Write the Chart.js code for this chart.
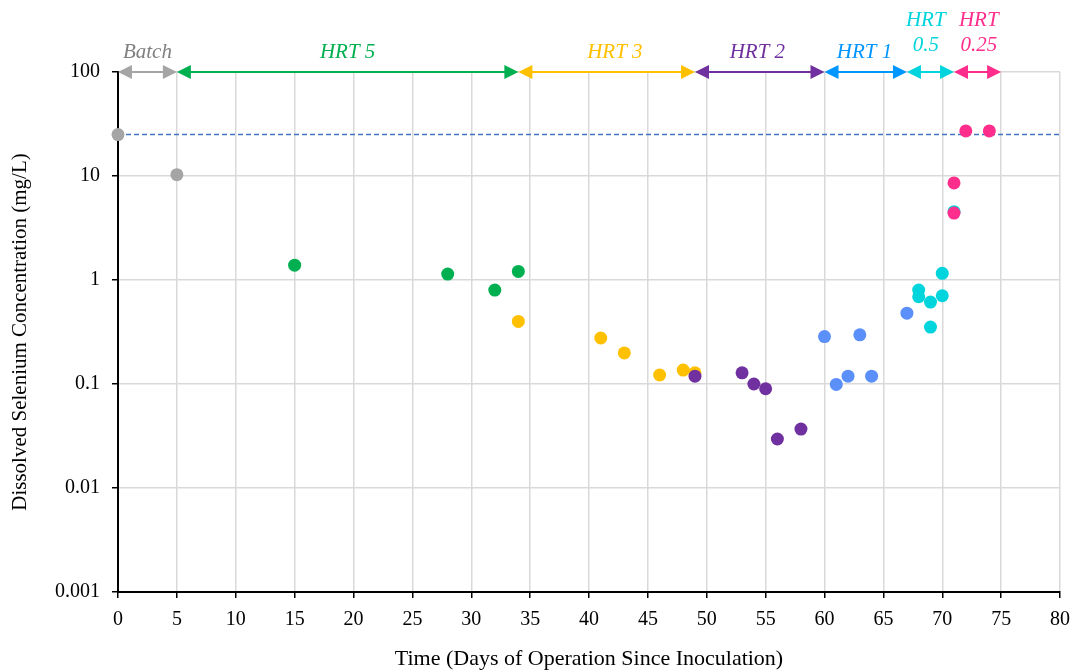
<!DOCTYPE html>
<html>
<head>
<meta charset="utf-8">
<script src="https://cdn.jsdelivr.net/npm/chart.js@4/dist/chart.umd.min.js"></script>
<style>
  html,body{margin:0;padding:0;background:#fff;}
  #wrap{width:1072px;height:672px;}
</style>
</head>
<body>
<div id="wrap"><canvas id="chart"></canvas></div>
<script>
// phases (colour, label, arrow span in days)
const phaseNames = ['Batch', 'HRT 5', 'HRT 3', 'HRT 2', 'HRT 1', 'HRT 0.5', 'HRT 0.25'];
const phaseColors = ['#a5a5a5', '#00b050', '#ffc000', '#7030a0', '#5b8ff9', '#00d4dc', '#ff2e8c'];
const arrowColors = ['#a5a5a5', '#00b050', '#ffc000', '#7030a0', '#0096ff', '#00d4dc', '#ff2e8c'];
const phaseStart = [0, 5, 34, 49, 60, 67, 71];
const phaseEnd = [5, 34, 49, 60, 67, 71, 75];
const labelDay = [2.5, 19.5, 42.2, 54.3, 63.4, 68.6, 73.1];
const labelLines = [['Batch'], ['HRT 5'], ['HRT 3'], ['HRT 2'], ['HRT 1'], ['HRT', '0.5'], ['HRT', '0.25']];

// measurements per phase: days and dissolved Se (mg/L)
const batchDays = [0, 5];
const batchSe = [25, 10.3];
const hrt5Days = [15, 28, 32, 34];
const hrt5Se = [1.39, 1.14, 0.80, 1.21];
const hrt3Days = [34, 41, 43, 46, 48, 49];
const hrt3Se = [0.40, 0.277, 0.199, 0.122, 0.136, 0.128];
const hrt2Days = [49, 53, 54, 55, 56, 58];
const hrt2Se = [0.119, 0.128, 0.100, 0.090, 0.0296, 0.0369];
const hrt1Days = [60, 61, 62, 63, 64, 67];
const hrt1Se = [0.286, 0.099, 0.119, 0.297, 0.119, 0.48];
const hrt05Days = [68, 68, 69, 69, 70, 70, 71];
const hrt05Se = [0.80, 0.69, 0.614, 0.353, 0.706, 1.16, 4.54];
const hrt025Days = [71, 71, 72, 74];
const hrt025Se = [4.4, 8.57, 27.1, 27.1];

const influentSe = 25;
const yTicks = [0.001, 0.01, 0.1, 1, 10, 100];

const allDays = [batchDays, hrt5Days, hrt3Days, hrt2Days, hrt1Days, hrt05Days, hrt025Days];
const allSe = [batchSe, hrt5Se, hrt3Se, hrt2Se, hrt1Se, hrt05Se, hrt025Se];

const datasets = phaseNames.map((name, i) => ({
  label: name,
  data: allDays[i].map((d, j) => ({x: d, y: allSe[i][j]})),
  backgroundColor: phaseColors[i],
  borderColor: phaseColors[i],
  borderWidth: 0,
  pointRadius: 6.5,
  clip: false,
  order: 10 - i
}));

const SERIF = '"Liberation Serif", "Times New Roman", serif';

function arrowHead(ctx, x, y, dir) {
  // dir: -1 points left, 1 points right
  ctx.beginPath();
  ctx.moveTo(x, y);
  ctx.lineTo(x - dir * 14, y - 7);
  ctx.lineTo(x - dir * 14, y + 7);
  ctx.closePath();
  ctx.fill();
}

const overlay = {
  id: 'overlay',
  beforeDatasetsDraw(chart) {
    const {ctx, scales: {y}, chartArea} = chart;
    const yy = y.getPixelForValue(influentSe);
    ctx.save();
    ctx.strokeStyle = '#4472c4';
    ctx.lineWidth = 1.5;
    ctx.setLineDash([5, 3]);
    ctx.beginPath();
    ctx.moveTo(chartArea.left, yy);
    ctx.lineTo(chartArea.right, yy);
    ctx.stroke();
    ctx.restore();
  },
  afterDraw(chart) {
    const {ctx, scales: {x, y}} = chart;
    const ay = y.getPixelForValue(100);
    ctx.save();
    phaseNames.forEach((n, i) => {
      const x0 = x.getPixelForValue(phaseStart[i]);
      const x1 = x.getPixelForValue(phaseEnd[i]);
      ctx.strokeStyle = arrowColors[i];
      ctx.fillStyle = arrowColors[i];
      ctx.lineWidth = 2;
      ctx.beginPath();
      ctx.moveTo(x0 + 10, ay);
      ctx.lineTo(x1 - 10, ay);
      ctx.stroke();
      arrowHead(ctx, x0, ay, -1);
      arrowHead(ctx, x1, ay, 1);
      ctx.font = 'italic 21px ' + SERIF;
      ctx.textAlign = 'center';
      ctx.textBaseline = 'middle';
      const lx = x.getPixelForValue(labelDay[i]);
      const lines = labelLines[i];
      if (lines.length === 1) {
        ctx.fillStyle = i === 0 ? '#808080' : arrowColors[i];
        ctx.fillText(lines[0], lx, ay - 20);
      } else {
        ctx.fillText(lines[0], lx, ay - 52);
        ctx.fillText(lines[1], lx, ay - 27);
      }
    });
    ctx.restore();
  }
};

new Chart(document.getElementById('chart'), {
  type: 'scatter',
  data: {datasets},
  options: {
    responsive: true,
    maintainAspectRatio: false,
    animation: false,
    layout: {padding: {top: 72, right: 0, left: 0, bottom: 0}},
    plugins: {legend: {display: false}, tooltip: {enabled: false}},
    scales: {
      x: {
        type: 'linear',
        min: 0, max: 80,
        ticks: {stepSize: 5, color: '#000', font: {family: SERIF, size: 20}, padding: 10, maxRotation: 0},
        grid: {color: '#d9d9d9', lineWidth: 1.5, tickColor: '#000', tickLength: 6},
        border: {color: '#000', width: 2},
        title: {display: true, text: 'Time (Days of Operation Since Inoculation)', color: '#000',
                font: {family: SERIF, size: 22}, padding: {top: 0, bottom: 0}},
        afterFit(s) { s.height = 80; s.paddingLeft = 0; s.paddingRight = 12; }
      },
      y: {
        type: 'logarithmic',
        min: 0.001, max: 100,
        afterBuildTicks(s) { s.ticks = yTicks.map(v => ({value: v})); },
        ticks: {color: '#000', font: {family: SERIF, size: 20}, padding: 12,
                callback: v => String(v)},
        grid: {color: '#d9d9d9', lineWidth: 1.5, tickColor: '#000', tickLength: 6},
        border: {color: '#000', width: 2},
        title: {display: true, text: 'Dissolved Selenium Concentration (mg/L)', color: '#000',
                font: {family: SERIF, size: 21}, padding: {top: 8, bottom: 0}},
        afterFit(s) { s.width = 118; s.paddingTop = 0; s.paddingBottom = 0; }
      }
    }
  },
  plugins: [overlay]
});
</script>
</body>
</html>
